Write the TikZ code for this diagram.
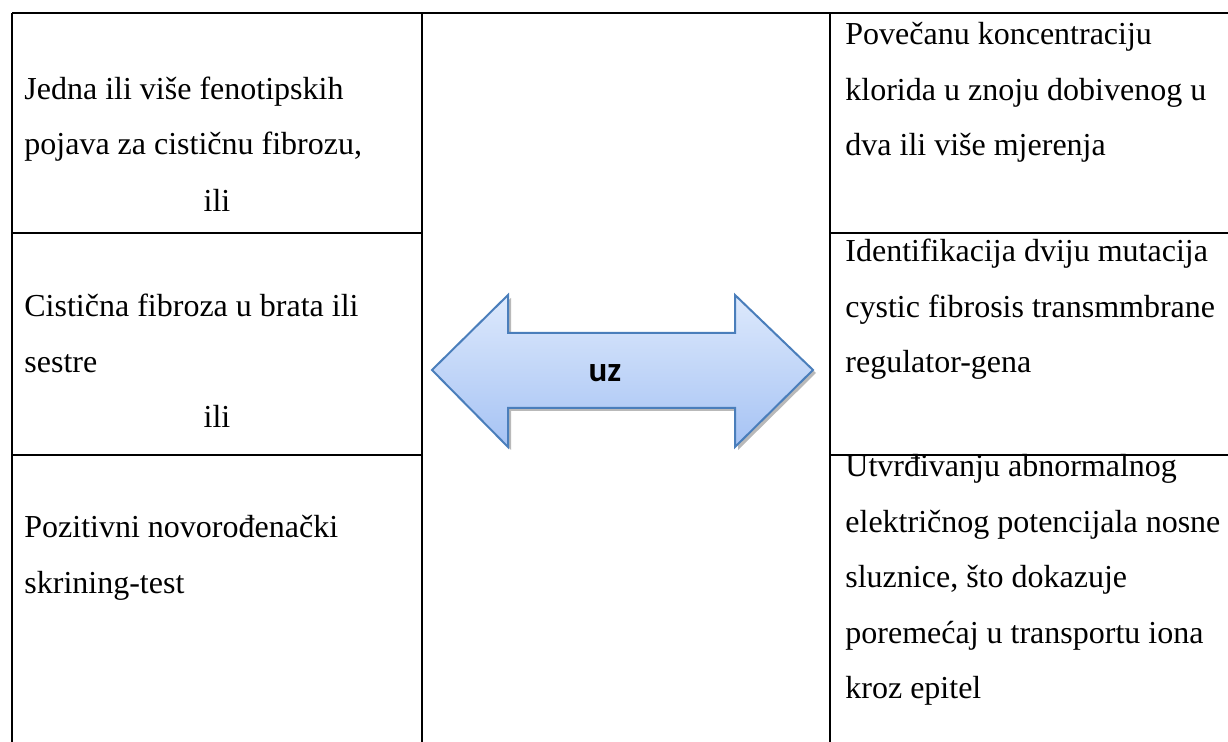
\documentclass[tikz,border=0pt]{standalone}
\usepackage{fontspec}
\setmainfont{Liberation Serif}
\newfontfamily\arrowfont{Carlito}
\usepackage{tikz}
\usetikzlibrary{calc}
\definecolor{clEdge}{HTML}{4A7EBB}
\definecolor{clTop}{HTML}{DDE9FC}
\definecolor{clBottom}{HTML}{A6C3F4}
\definecolor{clShadow}{HTML}{7F7F7F}
\tikzset{
  tabline/.style={draw=black, line width=1pt},
  % base anchor of a multi-line node sits on its last line
  celltext/.style={anchor=base west, align=left, inner sep=0pt,
                   font=\fontsize{16}{27.75}\selectfont},
  ortext/.style={anchor=base, inner sep=0pt, font=\fontsize{16}{19}\selectfont},
  bigarrow/.style={draw=clEdge, line width=1pt, line join=miter,
                   top color=clTop, bottom color=clBottom},
  arrowshadow/.style={fill=clShadow, opacity=0.55, draw=none},
  arrowlabel/.style={inner sep=0pt, font=\arrowfont\bfseries\fontsize{17.5}{20}\selectfont},
}
\begin{document}
\begin{tikzpicture}[x=0.5pt, y=-0.5pt]
  \useasboundingbox (0,0) rectangle (1228,742);
  % table rules
  \draw[tabline] (12,13) -- (1228,13);
  \foreach \x in {12,422,830} { \draw[tabline] (\x,13) -- (\x,742); }
  \foreach \y in {233,455} {
    \draw[tabline] (12,\y) -- (422,\y);
    \draw[tabline] (830,\y) -- (1228,\y);
  }
  % left column
  \node[celltext] (fen) at (24,155) {Jedna ili više fenotipskih\\pojava za cističnu fibrozu,};
  \node[ortext] (or1) at (217,212) {ili};
  \node[celltext] (sib) at (24,372.5) {Cistična fibroza u brata ili\\sestre};
  \node[ortext] (or2) at (217,428) {ili};
  \node[celltext] (scr) at (24,593.5) {Pozitivni novorođenački\\skrining-test};
  % right column
  \node[celltext] (swt) at (845,156) {Povečanu koncentraciju\\klorida u znoju dobivenog u\\dva ili više mjerenja};
  \node[celltext] (mut) at (845,373) {Identifikacija dviju mutacija\\cystic fibrosis transmmbrane\\regulator-gena};
  \node[celltext] (npd) at (845,699) {Utvrđivanju abnormalnog\\električnog potencijala nosne\\sluznice, što dokazuje\\poremećaj u transportu iona\\kroz epitel};
  % double arrow
  \path[arrowshadow] (435,373) -- (511,298) -- (511,336) -- (738,336) -- (738,298) -- (816,373)
    -- (738,450) -- (738,411) -- (511,411) -- (511,450) -- cycle;
  \path[bigarrow] (432,370) -- (508,295) -- (508,333) -- (735,333) -- (735,295) -- (813,370)
    -- (735,447) -- (735,408) -- (508,408) -- (508,447) -- cycle;
  \node[arrowlabel] (uz) at (605,373) {uz};
\end{tikzpicture}
\end{document}
